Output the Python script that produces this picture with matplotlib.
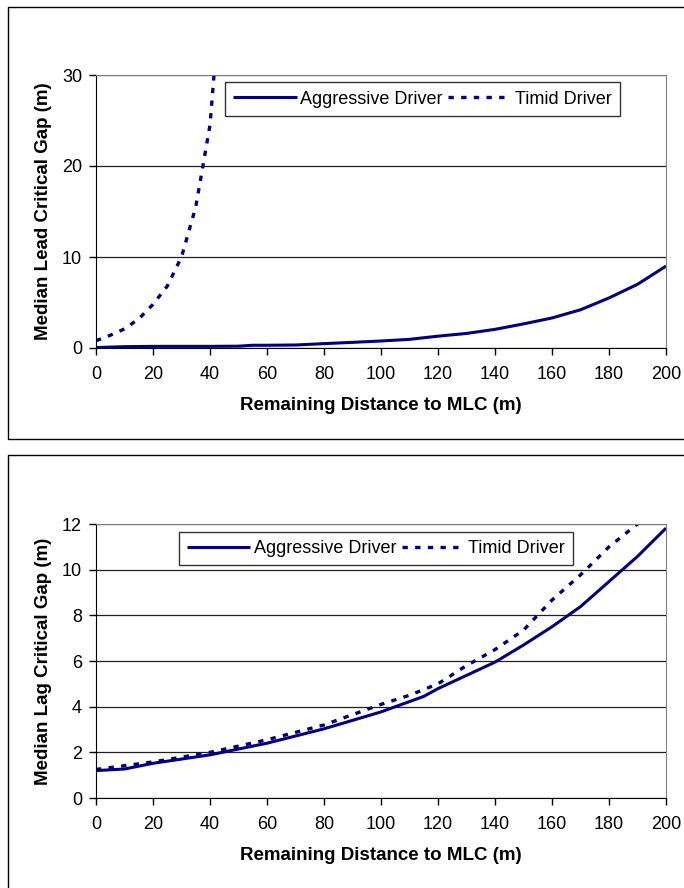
import matplotlib.pyplot as plt
from matplotlib.patches import Rectangle

plt.rcParams['font.family'] = ['Liberation Sans', 'DejaVu Sans']

# Lead critical gap (top panel)
lead_x = [0, 10, 20, 30, 40, 50, 55, 60, 70, 80, 90, 100, 110, 120, 130, 140, 150, 160, 170, 180, 190, 200]
lead_aggr = [0.05, 0.15, 0.18, 0.18, 0.18, 0.2, 0.3, 0.3, 0.33, 0.48, 0.62, 0.77, 0.95, 1.3, 1.6, 2.05, 2.65, 3.3, 4.2, 5.5, 7.0, 9.0]
lead_timid_x = [0, 5, 10, 15, 20, 25, 30, 35, 40, 45]
lead_timid = [0.8, 1.4, 2.1, 3.2, 4.8, 6.8, 10.0, 15.5, 24.5, 44.0]

# Lag critical gap (bottom panel)
lag_x = [0, 10, 20, 40, 60, 80, 100, 115, 120, 140, 150, 160, 170, 180, 190, 200]
lag_aggr = [1.2, 1.27, 1.52, 1.89, 2.4, 3.03, 3.77, 4.45, 4.79, 5.95, 6.7, 7.5, 8.38, 9.48, 10.58, 11.82]
lag_timid_x = [0, 20, 40, 60, 80, 100, 110, 120, 130, 140, 150, 160, 170, 180, 190, 200]
lag_timid = [1.25, 1.58, 2.0, 2.55, 3.2, 4.1, 4.5, 5.0, 5.8, 6.5, 7.35, 8.67, 9.77, 11.0, 12.0, 13.3]

x_ticks = list(range(0, 201, 20))
navy = '#000080'

W, H = 684, 888
fig = plt.figure(figsize=(W / 100, H / 100), dpi=100)

# panel borders
fig.patches.append(Rectangle((8 / W, 1 - 439 / H), 700 / W, 432 / H, transform=fig.transFigure,
                             fill=False, edgecolor='black', lw=1))
fig.patches.append(Rectangle((8 / W, -0.05), 700 / W, 1 - 455 / H + 0.05, transform=fig.transFigure,
                             fill=False, edgecolor='black', lw=1))


def make_panel(top_px, bot_px, ylim, yticks, ylabel, xs1, ys1, xs2, ys2, leg_px):
    ax = fig.add_axes([96 / W, 1 - bot_px / H, 570 / W, (bot_px - top_px) / H])
    ax.plot(xs1, ys1, color=navy, lw=2.2, label='Aggressive Driver', solid_capstyle='butt')
    ax.plot(xs2, ys2, color=navy, lw=2.4, linestyle=(0, (1.6, 2.2)), label='Timid Driver')
    ax.set_xlim(0, 200)
    ax.set_ylim(*ylim)
    ax.set_xticks(x_ticks)
    ax.set_yticks(yticks)
    ax.yaxis.grid(True, color='#202020', lw=0.9)
    ax.set_axisbelow(True)
    for s in ['top', 'right']:
        ax.spines[s].set_color('#808080')
    for s in ['left', 'bottom']:
        ax.spines[s].set_color('black')
    ax.tick_params(direction='out', length=5, width=1, labelsize=13)
    ax.tick_params(axis='x', pad=8)
    ax.tick_params(axis='y', pad=5)
    ax.set_xlabel('Remaining Distance to MLC (m)', fontsize=13.5, fontweight='bold', labelpad=10)
    ax.set_ylabel(ylabel, fontsize=13.5, fontweight='bold', labelpad=7)
    lx0, ly0, lx1, ly1 = leg_px
    leg = ax.legend(loc='center', ncol=2, frameon=True, fancybox=False, fontsize=13,
                    edgecolor='black', handlelength=3.5, columnspacing=0.3, handletextpad=0.2,
                    borderpad=0.45,
                    bbox_to_anchor=((lx0 + lx1) / 2 / W, 1 - (ly0 + ly1) / 2 / H),
                    bbox_transform=fig.transFigure)
    leg.get_frame().set_linewidth(1)
    return ax


make_panel(75, 348, (0, 30), [0, 10, 20, 30], 'Median Lead Critical Gap (m)',
           lead_x, lead_aggr, lead_timid_x, lead_timid, (236, 83, 609, 115))
make_panel(524, 798, (0, 12), [0, 2, 4, 6, 8, 10, 12], 'Median Lag Critical Gap (m)',
           lag_x, lag_aggr, lag_timid_x, lag_timid, (189, 532, 563, 565))

fig.savefig('out.png', dpi=100)
